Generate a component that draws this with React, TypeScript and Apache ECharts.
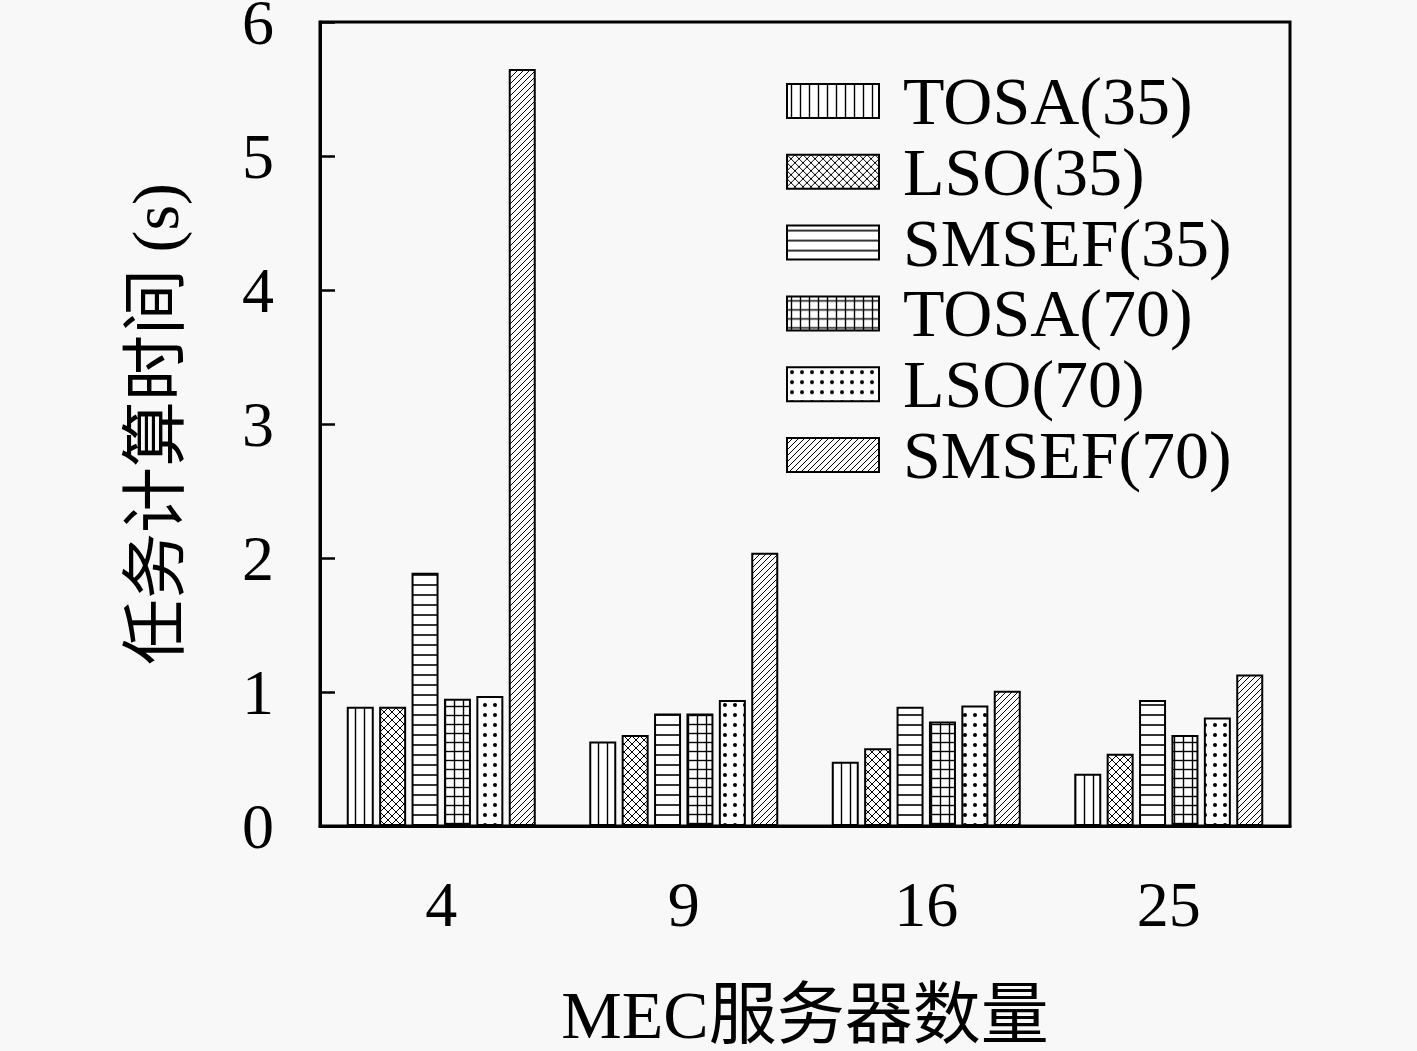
import React, { useEffect, useRef } from 'react';
import * as echarts from 'echarts';

const categories = ['4', '9', '16', '25'];
const seriesNames = ['TOSA(35)', 'LSO(35)', 'SMSEF(35)', 'TOSA(70)', 'LSO(70)', 'SMSEF(70)'];
const tosa35 = [0.89, 0.63, 0.48, 0.39];
const lso35 = [0.89, 0.68, 0.58, 0.54];
const smsef35 = [1.89, 0.84, 0.89, 0.94];
const tosa70 = [0.95, 0.84, 0.78, 0.68];
const lso70 = [0.97, 0.94, 0.9, 0.81];
const smsef70 = [5.65, 2.04, 1.01, 1.13];
const seriesValues = [tosa35, lso35, smsef35, tosa70, lso70, smsef70];
const patternKinds = ['vertical', 'cross', 'horizontal', 'grid', 'dots', 'diagonal'];

const FONT = "'Liberation Serif', 'Noto Sans CJK SC', serif";

// builds a small canvas tile used as a repeating fill
const makePattern = (kind: string) => {
  const sizes: Record<string, number> = {
    vertical: 9, cross: 8, horizontal: 10, grid: 9, dots: 10, diagonal: 6,
  };
  const s = sizes[kind];
  const c = document.createElement('canvas');
  c.width = s;
  c.height = s;
  const ctx = c.getContext('2d')!;
  ctx.fillStyle = '#ffffff';
  ctx.fillRect(0, 0, s, s);
  ctx.strokeStyle = '#000';
  ctx.fillStyle = '#000';
  const line = (x1: number, y1: number, x2: number, y2: number, w: number) => {
    ctx.lineWidth = w;
    ctx.beginPath();
    ctx.moveTo(x1, y1);
    ctx.lineTo(x2, y2);
    ctx.stroke();
  };
  if (kind === 'vertical') {
    line(s / 2, 0, s / 2, s, 1.4);
  } else if (kind === 'horizontal') {
    line(0, s / 2, s, s / 2, 1.6);
  } else if (kind === 'grid') {
    line(s / 2, 0, s / 2, s, 1.4);
    line(0, s / 2, s, s / 2, 1.4);
  } else if (kind === 'cross') {
    line(-1, -1, s + 1, s + 1, 1);
    line(-1, s + 1, s + 1, -1, 1);
  } else if (kind === 'diagonal') {
    line(-1, s + 1, s + 1, -1, 1);
    line(-1, 1, 1, -1, 1);
    line(s - 1, s + 1, s + 1, s - 1, 1);
  } else if (kind === 'dots') {
    ctx.beginPath();
    ctx.arc(s / 2, s / 2, 2, 0, Math.PI * 2);
    ctx.fill();
  }
  return { image: c, repeat: 'repeat', imageWidth: s, imageHeight: s };
};

const App = () => {
  const chartRef = useRef<HTMLDivElement>(null);

  useEffect(() => {
    if (!chartRef.current) return;
    const myChart = echarts.init(chartRef.current, null, { renderer: 'svg' });

    const series: any[] = seriesNames.map((name, i) => ({
      name,
      type: 'bar',
      data: seriesValues[i],
      barWidth: 27,
      barGap: '20%',
      itemStyle: {
        color: makePattern(patternKinds[i]) as any,
        borderColor: '#000',
        borderWidth: 2,
      },
    }));

    const option: any = {
      animation: false,
      backgroundColor: '#f8f8f8',
      grid: {
        left: 320,
        top: 22,
        right: 127,
        bottom: 225,
        outerBoundsMode: 'none',
        show: true,
        borderColor: '#000',
        borderWidth: 3,
        backgroundColor: 'transparent',
      },
      legend: {
        orient: 'vertical',
        left: 781,
        top: 62,
        icon: 'rect',
        itemWidth: 92,
        itemHeight: 34,
        itemGap: 2.8,
        selectedMode: false,
        data: seriesNames,
        textStyle: {
          fontFamily: FONT,
          fontSize: 68,
          color: '#000',
          padding: [0, 0, 0, 19],
        },
      },
      xAxis: {
        type: 'category',
        data: categories,
        name: 'MEC服务器数量',
        nameLocation: 'middle',
        nameGap: 155,
        nameTextStyle: { fontFamily: FONT, fontSize: 68, color: '#000' },
        axisLine: { lineStyle: { color: '#000', width: 3 } },
        axisTick: { inside: true, alignWithLabel: true, length: 13, lineStyle: { color: '#000', width: 3 } },
        axisLabel: { fontFamily: FONT, fontSize: 64, color: '#000', margin: 46 },
      },
      yAxis: {
        type: 'value',
        min: 0,
        max: 6,
        interval: 1,
        name: '任务计算时间 (s)',
        nameLocation: 'middle',
        nameGap: 132,
        nameTextStyle: { fontFamily: FONT, fontSize: 66, color: '#000' },
        axisLine: { show: true, lineStyle: { color: '#000', width: 3 } },
        axisTick: { show: true, inside: true, length: 15, lineStyle: { color: '#000', width: 2.5 } },
        axisLabel: { fontFamily: FONT, fontSize: 64, color: '#000', margin: 46 },
        splitLine: { show: false },
      },
      series,
    };

    myChart.setOption(option);

    const onResize = () => myChart.resize();
    window.addEventListener('resize', onResize);
    return () => {
      window.removeEventListener('resize', onResize);
      myChart.dispose();
    };
  }, []);

  return (
    <div
      ref={chartRef}
      style={{ position: 'fixed', left: 0, top: 0, width: 1417, height: 1051 }}
    ></div>
  );
};

export default App;
